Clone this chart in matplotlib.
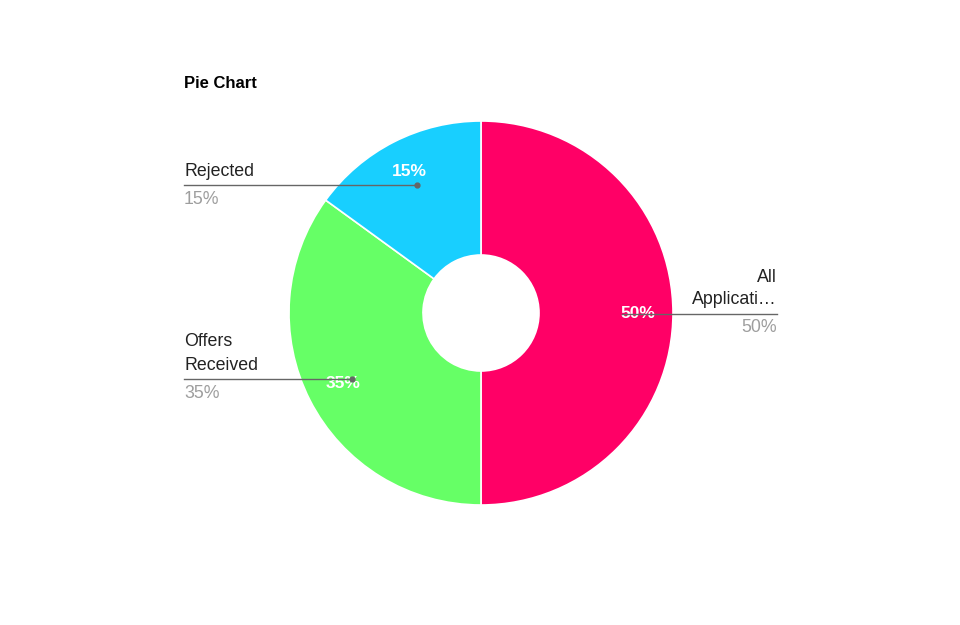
import matplotlib
matplotlib.use("Agg")
import matplotlib.pyplot as plt

categories = ["All Applications", "Offers Received", "Rejected"]
values = [50, 35, 15]
colors = ["#FF0066", "#66FF66", "#18CFFF"]
title = "Pie Chart"

plt.rcParams['font.family'] = ['Liberation Sans', 'DejaVu Sans']

W, H = 960, 625
fig = plt.figure(figsize=(W / 100, H / 100), dpi=100)
ax = fig.add_axes([0, 0, 1, 1])

cx, cy = 481, H - 313
R, r_in = 192, 58

wedges, _ = ax.pie(values, colors=colors, startangle=90, counterclock=False,
                   center=(cx, cy), radius=R, frame=True,
                   wedgeprops=dict(width=R - r_in, edgecolor='white', linewidth=1.2))
ax.set_xlim(0, W)
ax.set_ylim(0, H)
ax.set_aspect('equal')
ax.axis('off')

fig.text(184 / W, 1 - 83 / H, title, fontsize=12, fontweight='bold', va='center', ha='left', color='black')

# Percent labels inside slices
pct_pos = {"All Applications": (638, 314), "Offers Received": (343, 384), "Rejected": (409, 172)}
for c, v in zip(categories, values):
    x, y = pct_pos[c]
    ax.text(x, H - y, f"{v}%", color='white', fontsize=12.5, fontweight='bold', ha='center', va='center', zorder=3)

line_col = '#666666'
fs = 12.8
# Rejected
ax.plot([184, 417], [H - 185, H - 185], color=line_col, lw=1, zorder=4)
ax.plot([417], [H - 185], 'o', color=line_col, ms=3.5, zorder=4)
ax.text(184, H - 171, "Rejected", fontsize=fs, color='#222222', ha='left', va='center')
ax.text(184, H - 199, f"{values[2]}%", fontsize=fs, color='#9e9e9e', ha='left', va='center')
# Offers Received
ax.plot([184, 352], [H - 379, H - 379], color=line_col, lw=1, zorder=4)
ax.plot([352], [H - 379], 'o', color=line_col, ms=3.5, zorder=4)
ax.text(184, H - 341, "Offers", fontsize=fs, color='#222222', ha='left', va='center')
ax.text(184, H - 365, "Received", fontsize=fs, color='#222222', ha='left', va='center')
ax.text(184, H - 393, f"{values[1]}%", fontsize=fs, color='#9e9e9e', ha='left', va='center')
# All Applications
ax.plot([622, 777], [H - 314, H - 314], color=line_col, lw=1, zorder=4)
ax.text(777, H - 277, "All", fontsize=fs, color='#222222', ha='right', va='center')
ax.text(777, H - 300, "Applicati\u2026", fontsize=fs, color='#222222', ha='right', va='center')
ax.text(777, H - 327, f"{values[0]}%", fontsize=fs, color='#9e9e9e', ha='right', va='center')

fig.savefig("out.png", dpi=100, facecolor='white')
